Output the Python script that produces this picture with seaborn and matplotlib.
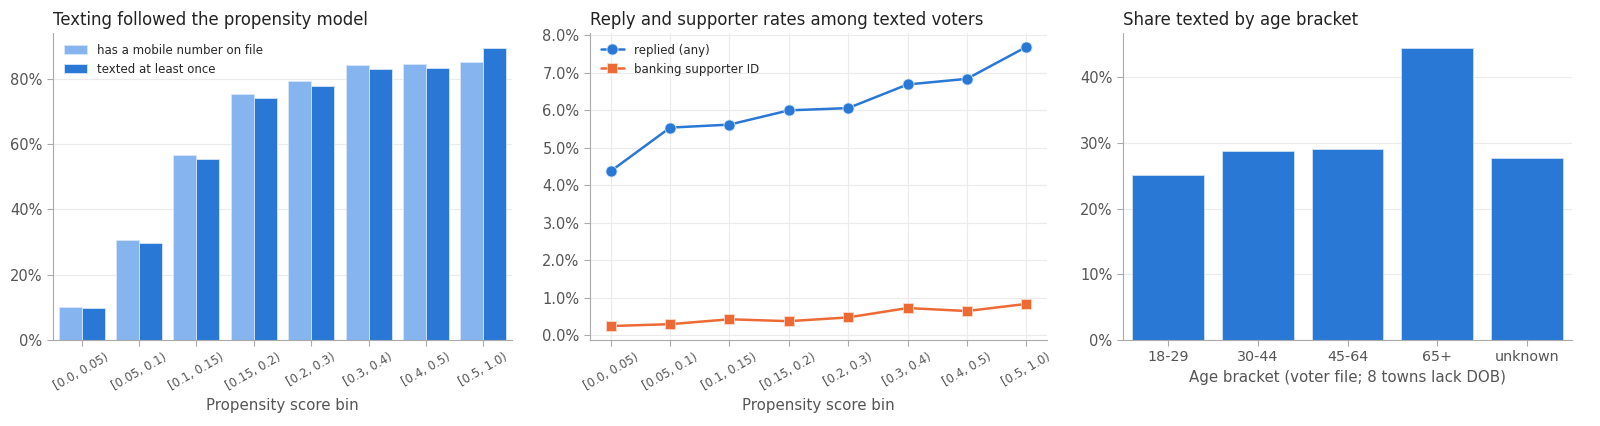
import matplotlib
matplotlib.use("Agg")
import matplotlib.pyplot as plt
from matplotlib.ticker import PercentFormatter
import pandas as pd
import seaborn as sns

# data
bins = ["[0.0, 0.05)", "[0.05, 0.1)", "[0.1, 0.15)", "[0.15, 0.2)",
        "[0.2, 0.3)", "[0.3, 0.4)", "[0.4, 0.5)", "[0.5, 1.0)"]
has_mobile = [10.2, 30.6, 56.6, 75.4, 79.4, 84.2, 84.4, 85.0]
texted = [9.7, 29.8, 55.3, 74.2, 77.8, 82.9, 83.4, 89.5]

replied = [4.38, 5.54, 5.62, 6.00, 6.06, 6.69, 6.84, 7.69]
supporter = [0.25, 0.30, 0.43, 0.38, 0.48, 0.73, 0.65, 0.84]

age_brackets = ["18-29", "30-44", "45-64", "65+", "unknown"]
age_texted = [25.1, 28.8, 29.0, 44.5, 27.7]

BLUE = "#2A78D6"
LIGHT = "#85B4EE"
ORANGE = "#EE6A35"
GREY = "#555555"

sns.set_style("whitegrid", {
    "axes.edgecolor": "#AAAAAA",
    "grid.color": "#EBEBEB",
    "xtick.bottom": True,
    "ytick.left": True,
    "xtick.color": "#AAAAAA",
    "ytick.color": "#AAAAAA",
})
plt.rcParams["font.family"] = ["DejaVu Sans"]

W, H = 1600, 426
fig, axes = plt.subplots(1, 3, figsize=(W / 100, H / 100), dpi=100)
# axes boxes in pixels (left, right), shared top/bottom
boxes = [(53, 512), (590, 1047), (1123, 1572)]
top, bottom = 33, 340
for ax, (x0, x1) in zip(axes, boxes):
    ax.set_position([x0 / W, 1 - bottom / H, (x1 - x0) / W, (bottom - top) / H])


def style(ax, title, xlabel, rot):
    ax.set_title(title, loc="left", fontsize=11.9, color="#222222")
    ax.set_xlabel(xlabel, fontsize=10.8, color=GREY)
    ax.set_ylabel("")
    ax.tick_params(axis="y", labelsize=10.5, labelcolor=GREY, length=4)
    ax.tick_params(axis="x", labelsize=8.5 if rot else 10.3, labelcolor=GREY,
                   length=4, rotation=rot)
    sns.despine(ax=ax)


# panel 1
df1 = pd.DataFrame({
    "bin": bins * 2,
    "share": has_mobile + texted,
    "series": ["has a mobile number on file"] * len(bins) + ["texted at least once"] * len(bins),
})
ax = axes[0]
sns.barplot(data=df1, x="bin", y="share", hue="series", palette=[LIGHT, BLUE],
            ax=ax, edgecolor="#D8E6F8", linewidth=0.6, saturation=1)
ax.yaxis.set_major_formatter(PercentFormatter(100, decimals=0))
ax.legend(loc="upper left", frameon=False, fontsize=8.5, title=None)
style(ax, "Texting followed the propensity model", "Propensity score bin", 30)

# panel 2
df2 = pd.DataFrame({"bin": bins, "replied": replied, "supporter": supporter})
ax = axes[1]
sns.lineplot(data=df2, x="bin", y="replied", sort=False, ax=ax, color=BLUE,
             marker="o", markersize=8, linewidth=1.8, markeredgecolor="#D6E6F8",
             markeredgewidth=0.6, label="replied (any)")
sns.lineplot(data=df2, x="bin", y="supporter", sort=False, ax=ax, color=ORANGE,
             marker="s", markersize=7, linewidth=1.8, markeredgecolor="#FBDACB",
             markeredgewidth=0.6, label="banking supporter ID")
ax.yaxis.set_major_formatter(PercentFormatter(100, decimals=1))
ax.legend(loc="upper left", frameon=False, fontsize=8.5)
style(ax, "Reply and supporter rates among texted voters", "Propensity score bin", 30)

# panel 3
df3 = pd.DataFrame({"age": age_brackets, "share": age_texted})
ax = axes[2]
sns.barplot(data=df3, x="age", y="share", color=BLUE, ax=ax,
            edgecolor="#CFE0F6", linewidth=0.6, saturation=1)
ax.yaxis.set_major_formatter(PercentFormatter(100, decimals=0))
style(ax, "Share texted by age bracket", "Age bracket (voter file; 8 towns lack DOB)", 0)

fig.savefig("out.png", dpi=100)
